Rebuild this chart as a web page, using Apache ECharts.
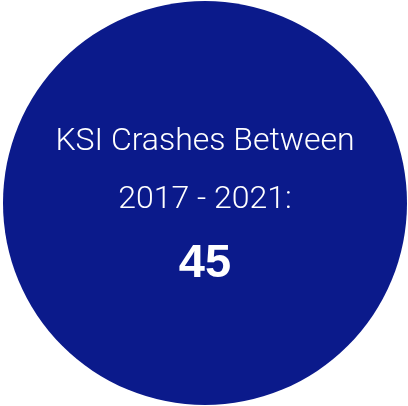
<!DOCTYPE html>
<html>
<head>
<meta charset="utf-8">
<script src="https://cdn.jsdelivr.net/npm/echarts@6/dist/echarts.min.js"></script>
<style>
  html, body { margin: 0; padding: 0; background: #fff; }
  #chart { width: 408px; height: 406px; }
</style>
</head>
<body>
<div id="chart"></div>
<script>
const titleLines = ['KSI Crashes Between', '2017 - 2021:'];
const crashCount = [45];

const chart = echarts.init(document.getElementById('chart'));

chart.setOption({
  animation: false,
  series: [{
    type: 'pie',
    silent: true,
    center: [205, 203],
    radius: [0, 202],
    data: [{ value: crashCount[0], name: 'KSI' }],
    itemStyle: { color: '#0B1A8B' },
    label: {
      show: true,
      position: 'center',
      padding: [6, 0, 0, 0],
      formatter: params => `{t|${titleLines[0]}}\n{t|${titleLines[1]}}\n{n|${params.value}}`,
      rich: {
        t: {
          color: '#fff',
          fontFamily: 'Roboto',
          fontWeight: 300,
          fontSize: 32,
          lineHeight: 58,
        },
        n: {
          color: '#fff',
          fontFamily: 'Liberation Sans',
          fontWeight: 'bold',
          fontSize: 47,
          lineHeight: 70,
        },
      },
    },
    labelLine: { show: false },
  }],
});
</script>
</body>
</html>
